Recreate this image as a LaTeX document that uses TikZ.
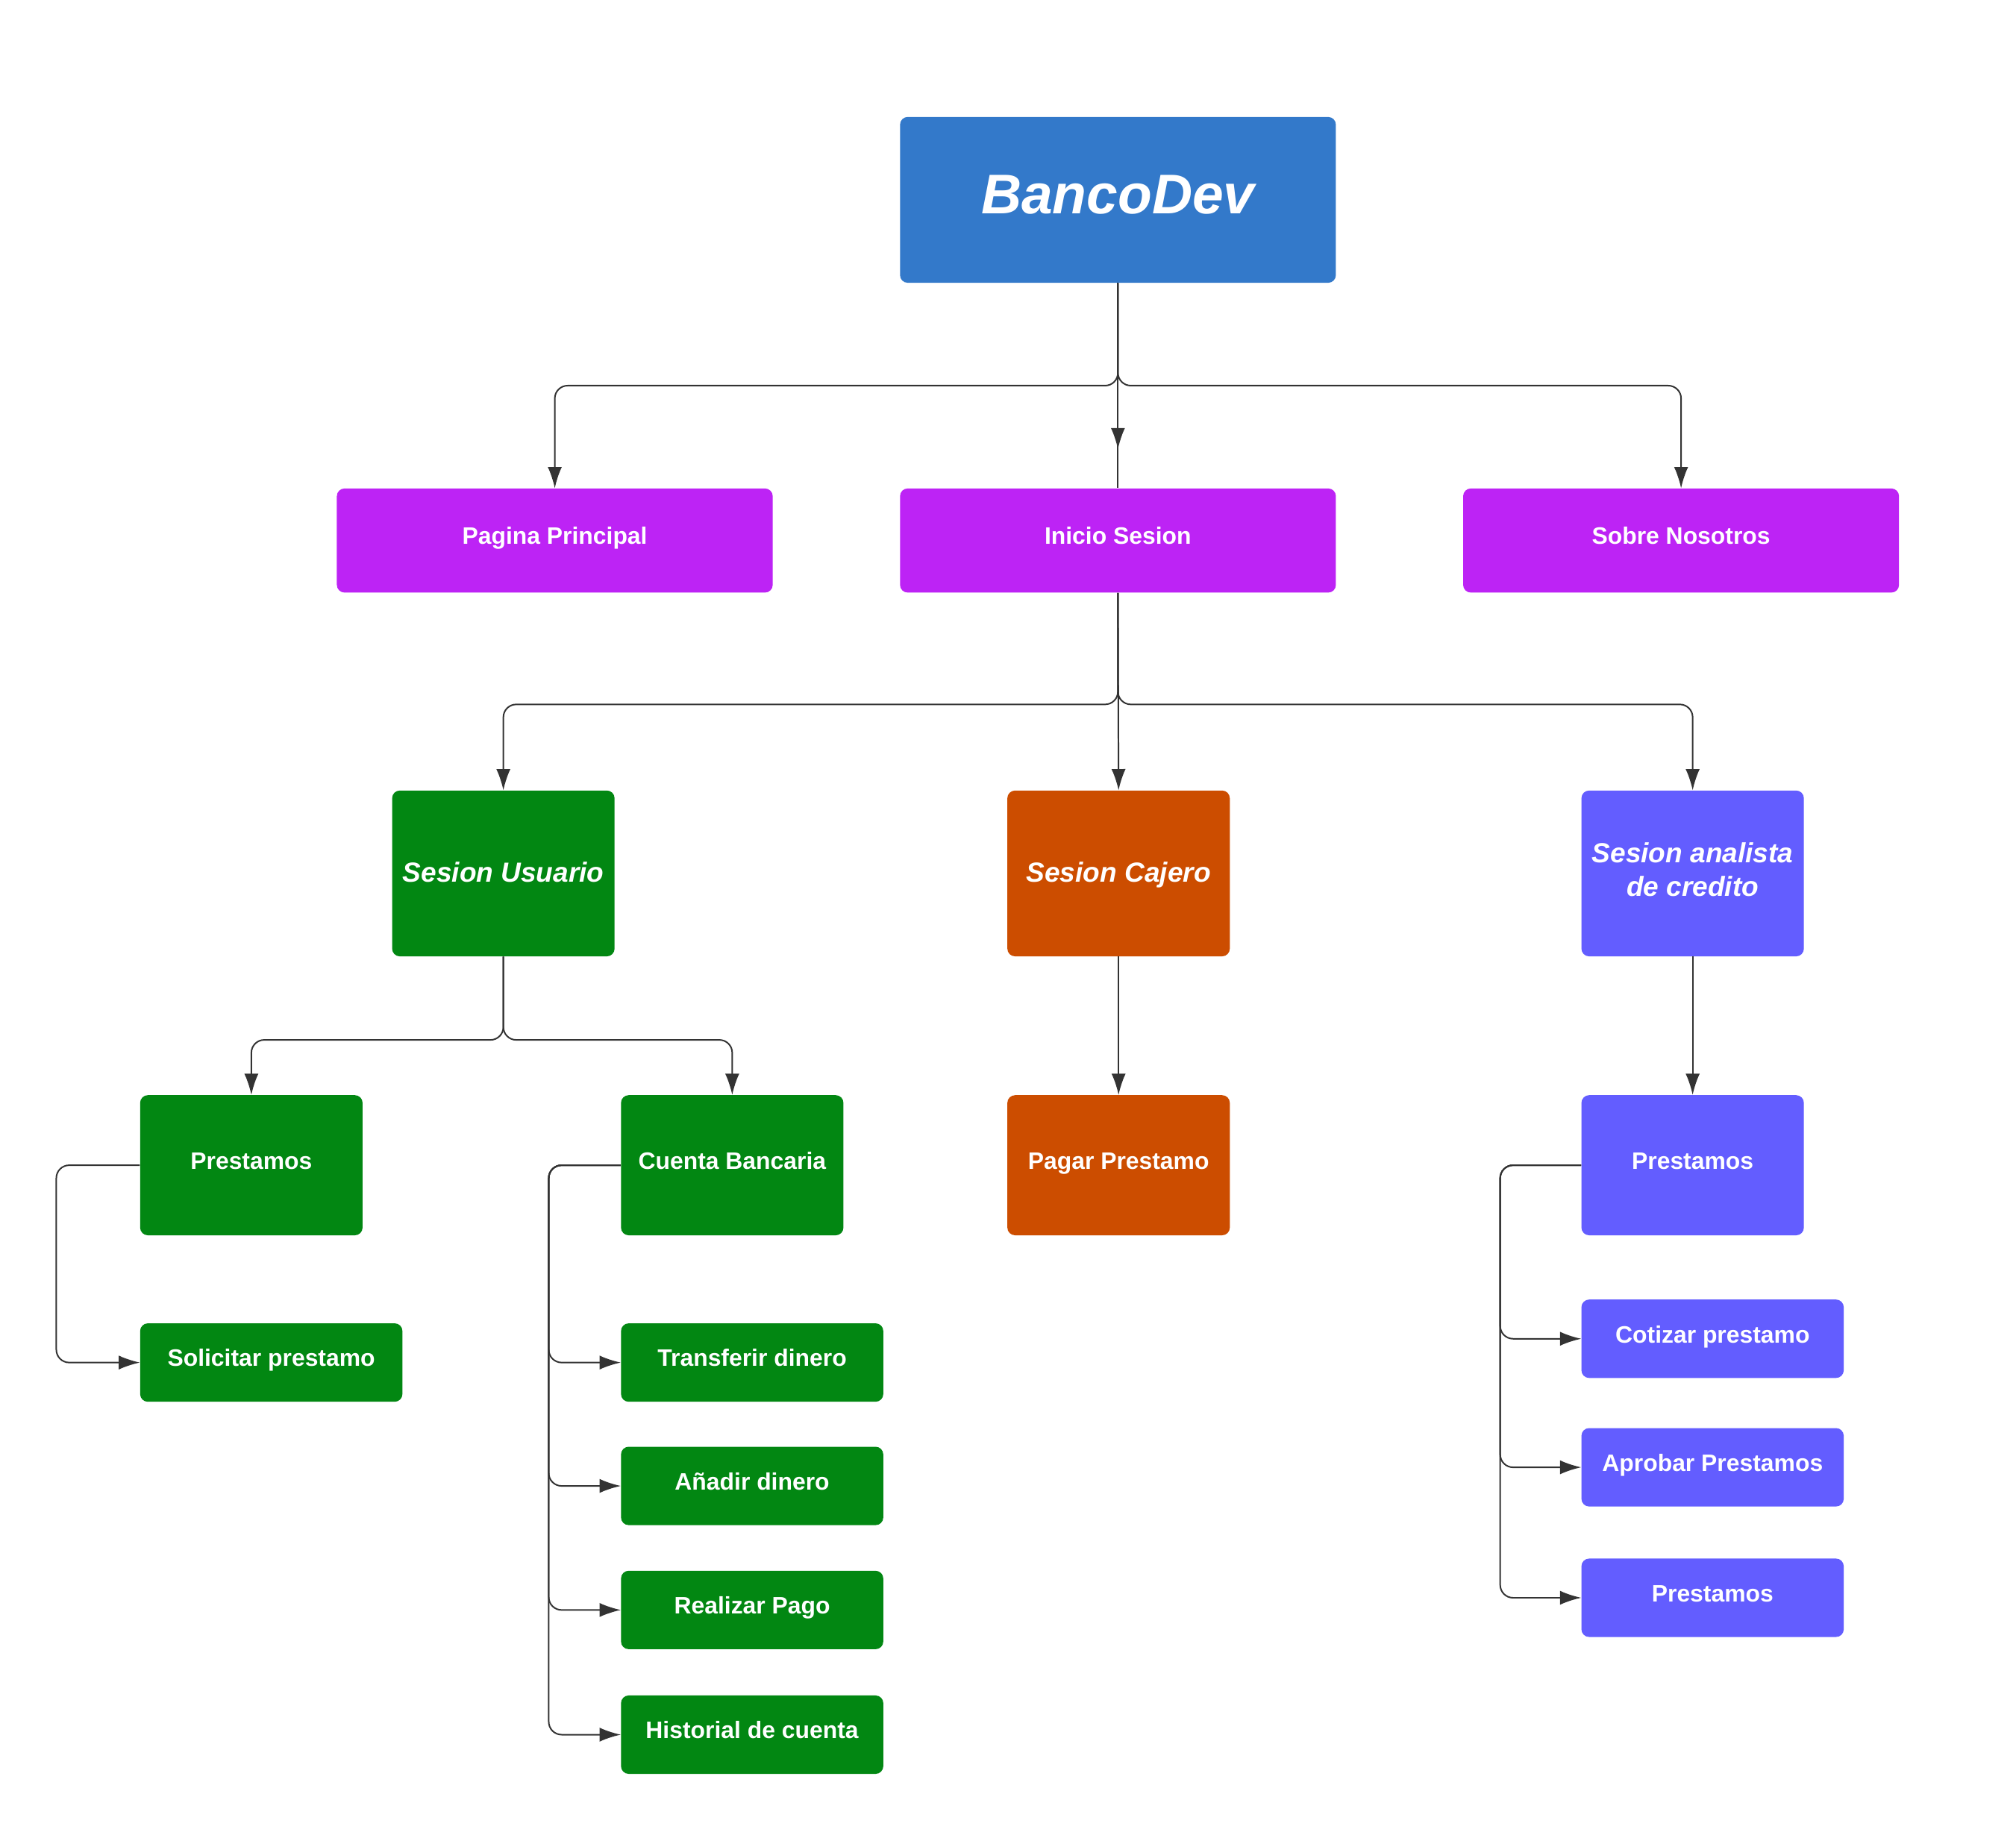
\documentclass[tikz,border=0pt]{standalone}
\usepackage{fontspec}
\setmainfont{Liberation Sans}
\usetikzlibrary{arrows.meta,decorations.markings,calc}
\definecolor{cblue}{HTML}{3379CA}
\definecolor{cpurple}{HTML}{BD23F5}
\definecolor{cgreen}{HTML}{028712}
\definecolor{corange}{HTML}{CC4D00}
\definecolor{cviolet}{HTML}{635DFF}
\definecolor{cline}{HTML}{333333}
\begin{document}
\begin{tikzpicture}[x=1pt,y=-1pt,
  box/.style={fill=#1, rounded corners=6pt, text=white, inner sep=0pt, align=center,
    font=\bfseries\fontsize{18.5}{22}\selectfont, text height=13.5pt, text depth=7.3pt},
  big/.style={minimum width=339pt, minimum height=81pt},
  sess/.style={minimum width=173pt, minimum height=129pt, font=\bfseries\itshape\fontsize{21.5}{26}\selectfont,
    text height=16pt, text depth=2.6pt},
  mid/.style={minimum width=173pt, minimum height=109pt},
  leaf/.style={minimum width=204pt, minimum height=61pt},
  conn/.style={draw=cline, line width=1.15pt, rounded corners=10pt, -{Latex[length=16.5pt,width=11pt]}},
  plain/.style={draw=cline, line width=1.15pt}]
\fill[white] (0,0) rectangle (1568,1425);
\useasboundingbox (0,0) rectangle (1568,1425);

% top
\node[box=cblue, minimum width=339pt, minimum height=129pt, font=\bfseries\itshape\fontsize{43.5}{50}\selectfont,
  text height=32pt, text depth=10.8pt] (banco) at (869.5,155.5) {BancoDev};
% level 1
\node[box=cpurple, big] (pag) at (431.5,420.5) {Pagina Principal};
\node[box=cpurple, big] (ini) at (869.5,420.5) {Inicio Sesion};
\node[box=cpurple, big] (sob) at (1307.5,420.5) {Sobre Nosotros};
% level 2
\node[box=cgreen, sess] (su) at (391.5,679.5) {Sesion Usuario};
\node[box=corange, sess] (sc) at (870,679.5) {Sesion Cajero};
\node[box=cviolet, sess, text height=0pt, text depth=0pt] (sa) at (1316.5,679.5)
  {\raisebox{8.3pt}[0pt][0pt]{\begin{tabular}[t]{@{}c@{}}Sesion analista\\de credito\end{tabular}}};
% level 3
\node[box=cgreen, mid] (pg) at (195.5,906.5) {Prestamos};
\node[box=cgreen, mid] (cb) at (569.5,906.5) {Cuenta Bancaria};
\node[box=corange, mid] (pp) at (870,906.5) {Pagar Prestamo};
\node[box=cviolet, mid] (pa) at (1316.5,906.5) {Prestamos};
% leaves
\node[box=cgreen, leaf] (sol) at (211,1060) {Solicitar prestamo};
\node[box=cgreen, leaf] (tr) at (585,1060) {Transferir dinero};
\node[box=cgreen, leaf] (an) at (585,1156) {Añadir dinero};
\node[box=cgreen, leaf] (re) at (585,1252.5) {Realizar Pago};
\node[box=cgreen, leaf] (hi) at (585,1349.5) {Historial de cuenta};
\node[box=cviolet, leaf] (co) at (1332,1041.5) {Cotizar prestamo};
\node[box=cviolet, leaf] (ap) at (1332,1141.5) {Aprobar Prestamos};
\node[box=cviolet, leaf] (pr) at (1332,1243) {Prestamos};

% junctions
\coordinate (j1) at (869.5,300);
\coordinate (j2) at (869.5,548);
\coordinate (j3) at (391.5,809);

% connectors from BancoDev
\draw[conn] (banco.south) -- (j1) -| (pag.north);
\draw[conn] (banco.south) -- (j1) -| (sob.north);
\draw[plain, postaction={decorate}, decoration={markings, mark=at position 0.81 with {\arrow{Latex[length=16.5pt,width=11pt]}}}] (banco.south) -- (ini.north);

% from Inicio Sesion
\draw[conn] (ini.south) -- (j2) -| (su.north);
\draw[conn] (ini.south) -- (j2) -| (sa.north);
\draw[conn] (ini.south) -- (sc.north);

% from Sesion Usuario
\draw[conn] (su.south) -- (j3) -| (pg.north);
\draw[conn] (su.south) -- (j3) -| (cb.north);
\draw[conn] (sc.south) -- (pp.north);
\draw[conn] (sa.south) -- (pa.north);

% side trees
\draw[conn] (pg.west) -- ++(-65,0) |- (sol.west);
\draw[conn] (cb.west) -- ++(-56,0) |- (tr.west);
\draw[conn] (cb.west) -- ++(-56,0) |- (an.west);
\draw[conn] (cb.west) -- ++(-56,0) |- (re.west);
\draw[conn] (cb.west) -- ++(-56,0) |- (hi.west);
\draw[conn] (pa.west) -- ++(-63,0) |- (co.west);
\draw[conn] (pa.west) -- ++(-63,0) |- (ap.west);
\draw[conn] (pa.west) -- ++(-63,0) |- (pr.west);
\end{tikzpicture}
\end{document}
